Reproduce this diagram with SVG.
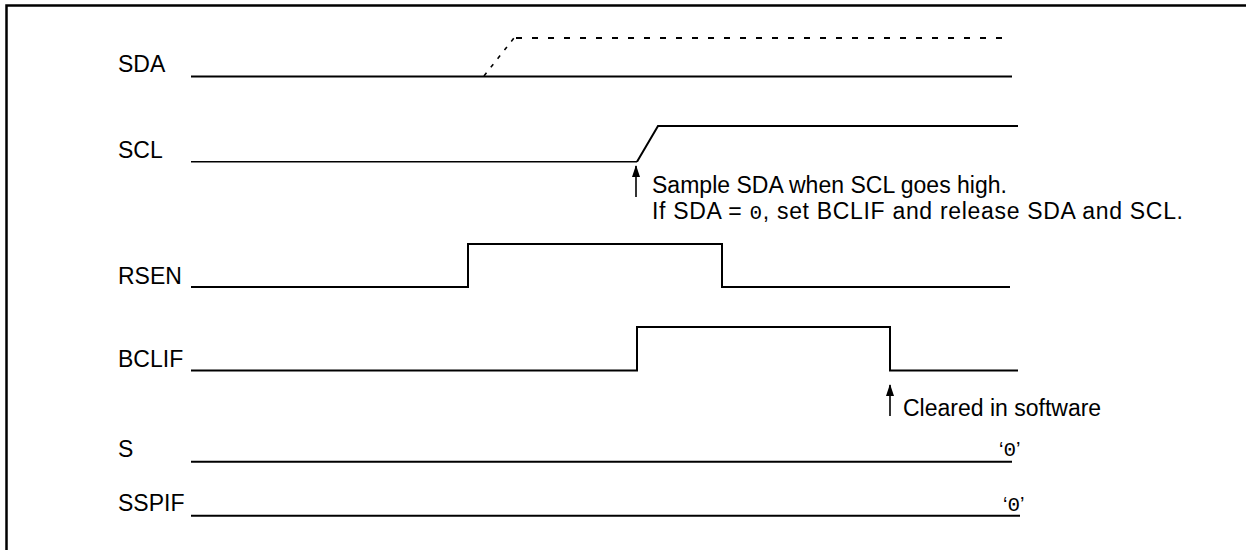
<svg xmlns="http://www.w3.org/2000/svg" width="1246" height="550" viewBox="0 0 1246 550">
<defs>
<style>
.sig{fill:none;stroke:#000;stroke-width:2;stroke-linejoin:miter;stroke-linecap:butt}
.thin{stroke-width:1.4}
.dash{fill:none;stroke:#000;stroke-width:2;stroke-dasharray:6 10}
.dashd{fill:none;stroke:#000;stroke-width:1.6;stroke-dasharray:4 7}
.lbl{font-family:"Liberation Sans",Arial,sans-serif;font-size:23px;fill:#000}
.mono{font-family:"Liberation Mono","Courier New",monospace;font-size:21px}
.arr{stroke:#000;stroke-width:1.6;fill:none}
</style>
<marker id="ah" viewBox="0 0 12 8" refX="11" refY="4" markerWidth="12" markerHeight="8" markerUnits="userSpaceOnUse" orient="auto">
<path d="M0,0 L12,4 L0,8 Z" fill="#000"/>
</marker>
</defs>
<rect width="1246" height="550" fill="#fff"/>
<g id="frame">
<path d="M6.5,550 V5.5 H1246" fill="none" stroke="#000" stroke-width="2.5"/>
</g>
<g id="SDA">
<text class="lbl" x="118" y="72">SDA</text>
<path class="sig" d="M191,76.5 H1012"/>
<path class="dashd" d="M484,76 L514,38"/>
<path class="dash" d="M516,38 H1012"/>
</g>
<g id="SCL">
<text class="lbl" x="118" y="158">SCL</text>
<path class="sig thin" d="M191,161.7 H637"/>
<path class="sig" d="M637,161.7 L658,126 H1018"/>
</g>
<g id="RSEN">
<text class="lbl" x="118" y="284">RSEN</text>
<path class="sig" d="M191,287 H468 V244 H722 V287 H1010"/>
</g>
<g id="BCLIF">
<text class="lbl" x="118" y="367">BCLIF</text>
<path class="sig" d="M191,370.5 H637 V327 H890 V370.5 H1018"/>
</g>
<g id="S">
<text class="lbl" x="118" y="457">S</text>
<path class="sig" d="M191,461.7 H1012"/>
<text class="lbl" x="999" y="456"><tspan font-size="20">‘</tspan><tspan class="mono">0</tspan><tspan font-size="20">’</tspan></text>
</g>
<g id="SSPIF">
<text class="lbl" x="118" y="511">SSPIF</text>
<path class="sig" d="M191,515.7 H1020"/>
<text class="lbl" x="1003" y="511"><tspan font-size="20">‘</tspan><tspan class="mono">0</tspan><tspan font-size="20">’</tspan></text>
</g>
<g id="connectors">
<line class="arr" x1="636" y1="197" x2="636" y2="166" marker-end="url(#ah)"/>
<line class="arr" x1="890" y1="416" x2="890" y2="385" marker-end="url(#ah)"/>
</g>
<g id="notes">
<text class="lbl" x="652" y="193" textLength="355" lengthAdjust="spacing">Sample SDA when SCL goes high.</text>
<text class="lbl" x="652" y="219" textLength="531" lengthAdjust="spacing">If SDA = <tspan class="mono">0</tspan>, set BCLIF and release SDA and SCL.</text>
<text class="lbl" x="903" y="416">Cleared in software</text>
</g>
</svg>
